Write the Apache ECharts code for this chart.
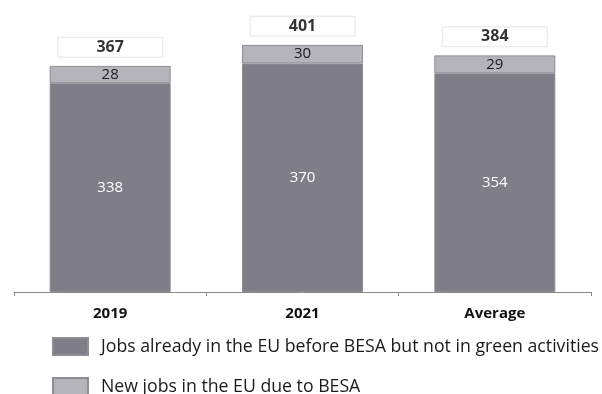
<!DOCTYPE html>
<html><head><meta charset="utf-8">
<script src="https://cdn.jsdelivr.net/npm/echarts@6/dist/echarts.min.js"></script>
<style>html,body{margin:0;padding:0;background:#fff}#c{width:602px;height:394px}</style>
</head><body><div id="c"></div>
<script>
var categories = ['2019', '2021', 'Average'];
var existingJobs = [338, 370, 354];
var newJobs = [28, 30, 29];
var totals = [367, 401, 384];
var seriesNames = ['Jobs already in the EU before BESA but not in green activities', 'New jobs in the EU due to BESA'];

var FONT = '"Open Sans", "Noto Sans", sans-serif';
var legendBase = {
  orient: 'vertical', left: 52, padding: 0, itemWidth: 35, itemHeight: 17,
  icon: 'rect',
  textStyle: { fontSize: 17.7, color: '#1a1a1a', fontFamily: FONT, padding: [0, 0, 0, 8] }
};
var chart = echarts.init(document.getElementById('c'));
chart.setOption({
  animation: false,
  textStyle: { fontFamily: FONT },
  grid: { left: 14, right: 11, top: 14, bottom: 102 },
  xAxis: {
    type: 'category', data: categories,
    axisLine: { lineStyle: { color: '#888', width: 1 } },
    axisTick: { show: true, length: 4, lineStyle: { color: '#888' } },
    axisLabel: { color: '#111', fontWeight: 'bold', fontSize: 15, margin: 14, fontFamily: FONT }
  },
  yAxis: { type: 'value', min: 0, max: 450, show: false, splitLine: { show: false } },
  legend: [
    Object.assign({}, legendBase, { top: 337, data: [seriesNames[0]] }),
    Object.assign({}, legendBase, { top: 377, data: [seriesNames[1]] })
  ],
  series: [
    {
      name: seriesNames[0], type: 'bar', stack: 'a', barWidth: 121, data: existingJobs,
      itemStyle: { color: '#7e7d88', borderColor: '#8e8d96', borderWidth: 1 },
      label: { show: true, position: 'inside', color: '#fff', fontSize: 15, fontFamily: FONT }
    },
    {
      name: seriesNames[1], type: 'bar', stack: 'a', barWidth: 121, data: newJobs,
      itemStyle: { color: '#b5b4bb', borderColor: '#8e8d96', borderWidth: 1 },
      label: { show: true, position: 'inside', color: '#1a1a1a', fontSize: 15, fontFamily: FONT }
    },
    {
      name: 'Total', type: 'scatter', data: totals, symbol: 'rect', symbolSize: 1,
      itemStyle: { color: 'rgba(0,0,0,0)' }, silent: true, z: 5,
      label: {
        show: true, position: 'top', distance: 8,
        color: '#000', fontWeight: 'bold', fontSize: 16, fontFamily: FONT,
        backgroundColor: '#fff', borderColor: '#e2e2e2', borderWidth: 1,
        width: 104, height: 19, lineHeight: 19, align: 'center', padding: 0
      }
    }
  ]
});
</script></body></html>
